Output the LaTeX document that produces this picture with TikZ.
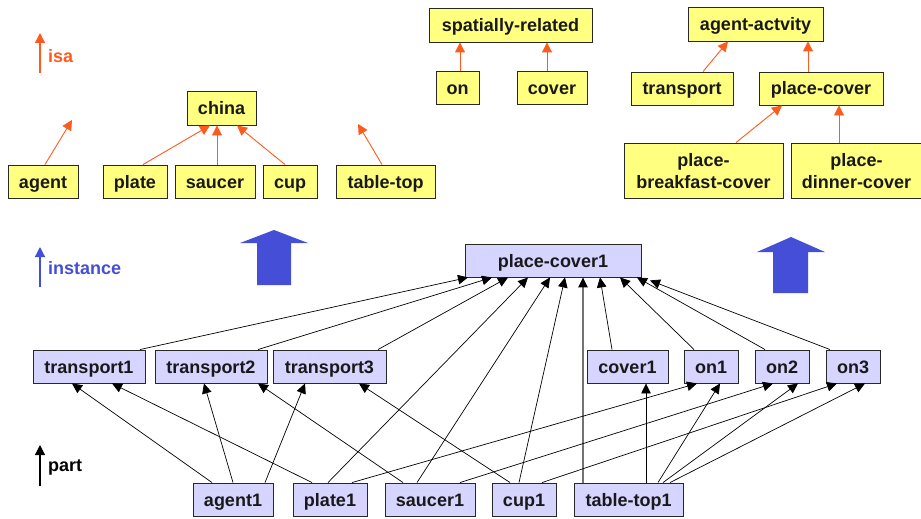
\documentclass[tikz,border=0pt]{standalone}
\usepackage{fontspec}
\setmainfont{Liberation Sans}
\usetikzlibrary{arrows.meta}
\definecolor{isaor}{RGB}{255,90,30}
\definecolor{instbl}{RGB}{68,78,214}
\definecolor{ybox}{RGB}{255,255,128}
\definecolor{bbox}{RGB}{213,213,255}
\definecolor{edge}{RGB}{40,40,40}
\begin{document}
\begin{tikzpicture}[x=1pt,y=-1pt,
  font=\fontsize{18}{22}\selectfont\bfseries,
  box/.style={draw=edge, line width=0.9pt, inner sep=0pt, text=black!90, align=center,
    text height=13pt, text depth=0pt},
  yb/.style={box, fill=ybox},
  bb/.style={box, fill=bbox},
  twoline/.style={text height=35pt, text depth=0pt},
  isaarr/.style={draw=isaor, line width=0.9pt, -{Triangle[length=10pt,width=10pt]}, isaor},
  partarr/.style={draw=black, line width=0.7pt, -{Triangle[length=10pt,width=9.5pt,color=black]}},
  bigarrow/.style={fill=instbl, draw=none},
  legtxt/.style={anchor=west, inner sep=0pt}]
\useasboundingbox (0,0) rectangle (921,519);

% ---------- legend ----------
\coordinate (isaA) at (40,73);
\coordinate (isaB) at (40,33);
\draw[isaarr, line width=1.2pt] (isaA) -- (isaB);
\node[legtxt, text=isaor] (isalbl) at (48,56) {isa};
\coordinate (instA) at (40,287);
\coordinate (instB) at (40,247);
\draw[line width=1.2pt, draw=instbl, -{Triangle[length=10pt,width=10pt]}, instbl] (instA) -- (instB);
\node[legtxt, text=instbl] (instlbl) at (48,268) {instance};
\coordinate (partA) at (40,486);
\coordinate (partB) at (40,445);
\draw[line width=1.2pt, -{Triangle[length=10pt,width=10pt]}] (partA) -- (partB);
\node[legtxt] (partlbl) at (48,467) {part};

% ---------- big arrows ----------
\fill[bigarrow] (274,230) -- (308,243) -- (291,243) -- (291,285) -- (257,285) -- (257,243) -- (240,243) -- cycle;
\fill[bigarrow] (791,237) -- (825,252) -- (808,252) -- (808,293) -- (773,293) -- (773,252) -- (757,252) -- cycle;

% ---------- isa hierarchy (yellow) ----------
\node[yb, minimum width=69pt, minimum height=34pt] (china) at (221.5,108) {china};
\node[yb, minimum width=70pt, minimum height=33pt] (agent) at (43,181.5) {agent};
\node[yb, minimum width=64pt, minimum height=33pt] (plate) at (135,181.5) {plate};
\node[yb, minimum width=80pt, minimum height=33pt] (saucer) at (215,181.5) {saucer};
\node[yb, minimum width=54pt, minimum height=33pt] (cup) at (290,181.5) {cup};
\node[yb, minimum width=99pt, minimum height=33pt] (tabletop) at (385.5,181.5) {table-top};
\node[yb, minimum width=163pt, minimum height=34pt] (sr) at (510.5,25) {spatially-related};
\node[yb, minimum width=43pt, minimum height=33pt] (on) at (457.5,87.5) {on};
\node[yb, minimum width=70pt, minimum height=33pt] (cover) at (552,87.5) {cover};
\node[yb, minimum width=135pt, minimum height=34pt] (aa) at (755.5,24) {agent-actvity};
\node[yb, minimum width=102pt, minimum height=33pt] (transport) at (682,88.5) {transport};
\node[yb, minimum width=124pt, minimum height=33pt] (pc) at (821,88.5) {place-cover};
\node[yb, twoline, minimum width=159pt, minimum height=55pt] (pbc) at (703.5,170.5) {place-\\breakfast-cover};
\node[yb, twoline, minimum width=131pt, minimum height=55pt] (pdc) at (856.5,170.5) {place-\\dinner-cover};

\coordinate (agentT) at (72,120);
\coordinate (tabletopT) at (358,124);
\draw[isaarr] ([xshift=2pt]agent.north) -- (agentT);
\draw[isaarr] ([xshift=-3.5pt]tabletop.north) -- (tabletopT);
\draw[isaarr] ([xshift=8pt]plate.north) -- ([xshift=-11.5pt]china.south);
\draw[isaarr] ([xshift=2pt]saucer.north) -- ([xshift=-4.5pt]china.south);
\draw[isaarr] ([xshift=-5pt]cup.north) -- ([xshift=15.5pt]china.south);
\draw[isaarr] ([xshift=2.5pt]on.north) -- ([xshift=-50.5pt]sr.south);
\draw[isaarr] ([xshift=-5pt]cover.north) -- ([xshift=36.5pt]sr.south);
\draw[isaarr] ([xshift=21pt]transport.north) -- ([xshift=-27.5pt]aa.south);
\draw[isaarr] ([xshift=-13pt]pc.north) -- ([xshift=52.5pt]aa.south);
\draw[isaarr] ([xshift=32.5pt]pbc.north) -- ([xshift=-39pt]pc.south);
\draw[isaarr] ([xshift=-17.5pt]pdc.north) -- ([xshift=18pt]pc.south);

% ---------- instances (lavender) ----------
\node[bb, minimum width=176pt, minimum height=33pt] (pc1) at (553,260.5) {place-cover1};
\node[bb, minimum width=112pt, minimum height=33pt] (t1) at (89,366.5) {transport1};
\node[bb, minimum width=112pt, minimum height=33pt] (t2) at (211,366.5) {transport2};
\node[bb, minimum width=113pt, minimum height=33pt] (t3) at (329.5,366.5) {transport3};
\node[bb, minimum width=81pt, minimum height=33pt] (cover1) at (627.5,366.5) {cover1};
\node[bb, minimum width=54pt, minimum height=33pt] (on1) at (711,366.5) {on1};
\node[bb, minimum width=54pt, minimum height=33pt] (on2) at (782,366.5) {on2};
\node[bb, minimum width=54pt, minimum height=33pt] (on3) at (853,366.5) {on3};
\node[bb, minimum width=80pt, minimum height=33pt] (agent1) at (233,499.5) {agent1};
\node[bb, minimum width=74pt, minimum height=33pt] (plate1) at (330,499.5) {plate1};
\node[bb, minimum width=90pt, minimum height=33pt] (saucer1) at (430,499.5) {saucer1};
\node[bb, minimum width=64pt, minimum height=33pt] (cup1) at (524,499.5) {cup1};
\node[bb, minimum width=109pt, minimum height=33pt] (tt1) at (628.5,499.5) {table-top1};

% parts of place-cover1
\draw[partarr] ([xshift=51pt]t1.north) -- ([xshift=-85pt]pc1.south);
\draw[partarr] ([xshift=47pt]t2.north) -- ([xshift=-61pt]pc1.south);
\draw[partarr] ([xshift=48.5pt]t3.north) -- ([xshift=-45pt]pc1.south);
\draw[partarr] ([xshift=-2pt]plate1.north) -- ([xshift=-25pt]pc1.south);
\draw[partarr] ([xshift=-13pt]saucer1.north) -- ([xshift=-3pt]pc1.south);
\draw[partarr] ([xshift=-5pt]cup1.north) -- ([xshift=12pt]pc1.south);
\draw[partarr, draw=black!55, line width=1.1pt] ([xshift=-45.5pt]tt1.north) -- ([xshift=30pt]pc1.south);
\draw[partarr] ([xshift=-15.5pt]cover1.north) -- ([xshift=47pt]pc1.south);
\draw[partarr] ([xshift=-17pt]on1.north) -- ([xshift=67pt]pc1.south);
\draw[partarr] ([xshift=-17pt]on2.north) -- ([xshift=84pt]pc1.south);
\coordinate (pc1r) at ([xshift=97pt,yshift=-3pt]pc1.south);
\draw[partarr] ([xshift=-23pt]on3.north) -- (pc1r);

% parts of the transports and relations
\draw[partarr] ([xshift=-21pt]agent1.north) -- ([xshift=-17pt]t1.south);
\draw[partarr] ([xshift=-18pt]plate1.north) -- ([xshift=23pt]t1.south);
\draw[partarr] ([xshift=0pt]agent1.north) -- ([xshift=-7pt]t2.south);
\draw[partarr] ([xshift=32pt]agent1.north) -- ([xshift=-24.5pt]t3.south);
\draw[partarr] ([xshift=-27pt]saucer1.north) -- ([xshift=47pt]t2.south);
\draw[partarr] ([xshift=-14pt]cup1.north) -- ([xshift=29.5pt]t3.south);
\draw[partarr] ([xshift=22pt]plate1.north) -- ([xshift=-14pt]on1.south);
\draw[partarr] ([xshift=30pt]saucer1.north) -- ([xshift=-9pt]on2.south);
\draw[partarr] ([xshift=18pt]cup1.north) -- ([xshift=-16pt]on3.south);
\draw[partarr] ([xshift=17.5pt]tt1.north) -- ([xshift=18.5pt]cover1.south);
\draw[partarr] ([xshift=29.5pt]tt1.north) -- ([xshift=9pt]on1.south);
\draw[partarr] ([xshift=34.5pt]tt1.north) -- ([xshift=16pt]on2.south);
\draw[partarr] ([xshift=41.5pt]tt1.north) -- ([xshift=12pt]on3.south);
\end{tikzpicture}
\end{document}
